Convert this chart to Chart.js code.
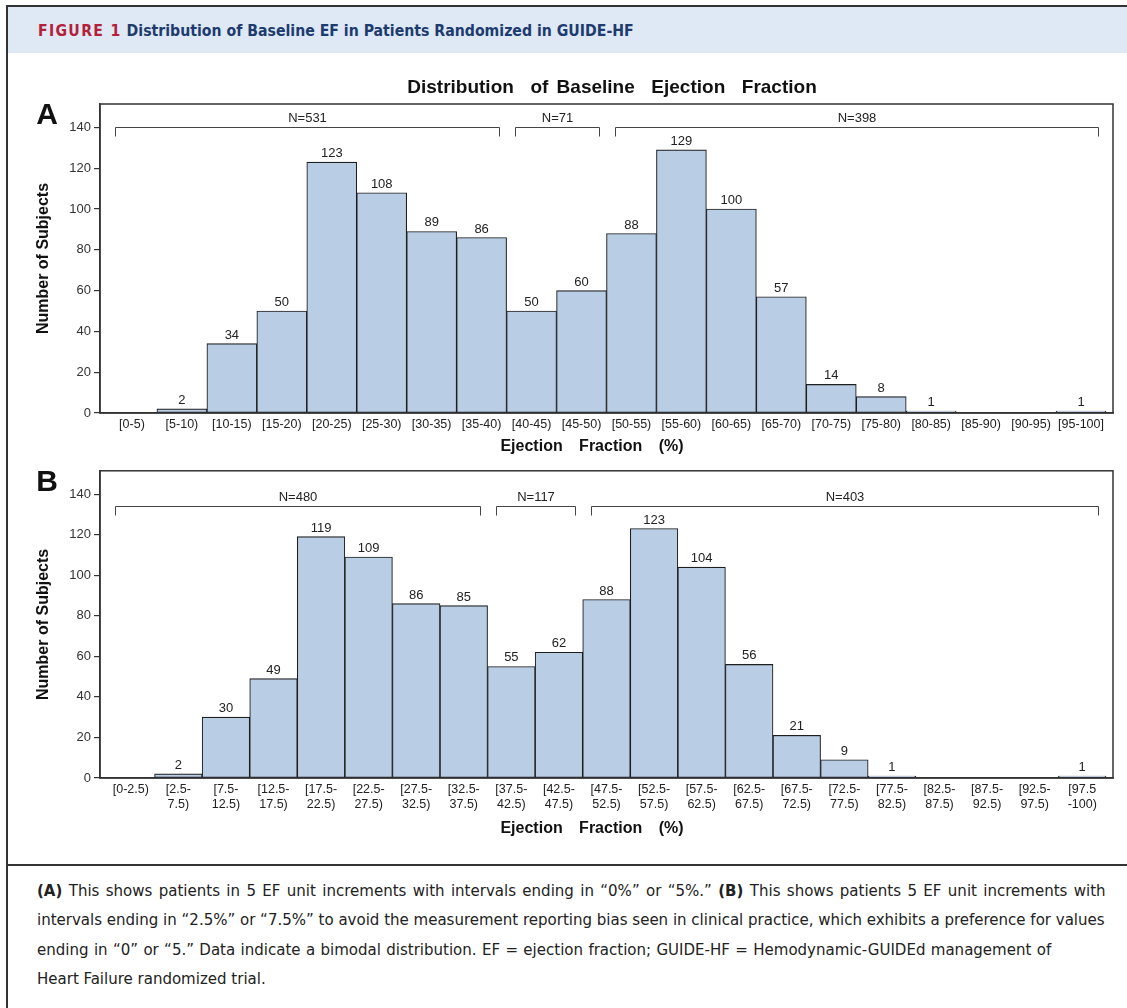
<!DOCTYPE html>
<html>
<head>
<meta charset="utf-8">
<title>Distribution of Baseline EF in Patients Randomized in GUIDE-HF</title>
<script src="https://cdn.jsdelivr.net/npm/chart.js@4.4.1/dist/chart.umd.min.js"></script>
<style>
  html, body { margin: 0; padding: 0; background: #fff; }
  body { width: 1127px; height: 1008px; position: relative; overflow: hidden; }
  #frameLeft { position: absolute; left: 6px; top: 5px; width: 2px; height: 1003px; background: #333; }
  #frameTop { position: absolute; left: 6px; top: 5px; width: 1121px; height: 2px; background: #333; }
  #header {
    position: absolute; left: 8px; top: 7px; width: 1119px; height: 46px; background: #dee9f5;
    font-family: "DejaVu Sans Condensed", "DejaVu Sans", sans-serif; font-weight: bold;
    font-size: 15.7px; line-height: 48px; white-space: nowrap;
  }
  #header .fig { color: #b3203a; letter-spacing: 1.3px; margin-left: 30px; }
  #header .ttl { color: #1d3b6e; margin-left: 5px; }
  .panel { position: absolute; left: 0; }
  #sep { position: absolute; left: 6px; top: 864px; width: 1121px; height: 2px; background: #333; }
  #caption {
    position: absolute; left: 37px; top: 876px;
    font-family: "DejaVu Sans Condensed", "DejaVu Sans", sans-serif; font-size: 16.7px;
    line-height: 29.3px; color: #222; white-space: nowrap;
  }
  #caption .l1 { word-spacing: 1.6px; }
  #caption .l3 { word-spacing: 0.6px; }
</style>
</head>
<body>
<div id="frameLeft"></div>
<div id="frameTop"></div>
<div id="header"><span class="fig">FIGURE 1</span><span class="ttl">Distribution of Baseline EF in Patients Randomized in GUIDE-HF</span></div>
<canvas id="chartA" class="panel" width="1127" height="405" style="top:55px"></canvas>
<canvas id="chartB" class="panel" width="1127" height="400" style="top:460px"></canvas>
<div id="sep"></div>
<div id="caption">
  <div class="l1"><b>(A)</b> This shows patients in 5 EF unit increments with intervals ending in “0%” or “5%.” <b>(B)</b> This shows patients 5 EF unit increments with</div>
  <div class="l2">intervals ending in “2.5%” or “7.5%” to avoid the measurement reporting bias seen in clinical practice, which exhibits a preference for values</div>
  <div class="l3">ending in “0” or “5.” Data indicate a bimodal distribution. EF = ejection fraction; GUIDE-HF = Hemodynamic-GUIDEd management of</div>
  <div>Heart Failure randomized trial.</div>
</div>
<script>
// Panel A: 5-unit bins ending in 0 / 5
const binsA = ['[0-5)', '[5-10)', '[10-15)', '[15-20)', '[20-25)', '[25-30)', '[30-35)', '[35-40)',
  '[40-45)', '[45-50)', '[50-55)', '[55-60)', '[60-65)', '[65-70)', '[70-75)', '[75-80)',
  '[80-85)', '[85-90)', '[90-95)', '[95-100]'];
const countsA = [0, 2, 34, 50, 123, 108, 89, 86, 50, 60, 88, 129, 100, 57, 14, 8, 1, 0, 0, 1];
const groupLabelsA = ['N=531', 'N=71', 'N=398'];
const groupFirstA = [0, 8, 10];
const groupLastA = [7, 9, 19];
const groupLevelA = 140;

// Panel B: 5-unit bins ending in 2.5 / 7.5
const binsB = ['[0-2.5)', ['[2.5-', '7.5)'], ['[7.5-', '12.5)'], ['[12.5-', '17.5)'], ['[17.5-', '22.5)'],
  ['[22.5-', '27.5)'], ['[27.5-', '32.5)'], ['[32.5-', '37.5)'], ['[37.5-', '42.5)'], ['[42.5-', '47.5)'],
  ['[47.5-', '52.5)'], ['[52.5-', '57.5)'], ['[57.5-', '62.5)'], ['[62.5-', '67.5)'], ['[67.5-', '72.5)'],
  ['[72.5-', '77.5)'], ['[77.5-', '82.5)'], ['[82.5-', '87.5)'], ['[87.5-', '92.5)'], ['[92.5-', '97.5)'],
  ['[97.5', '-100)']];
const countsB = [0, 2, 30, 49, 119, 109, 86, 85, 55, 62, 88, 123, 104, 56, 21, 9, 1, 0, 0, 0, 1];
const groupLabelsB = ['N=480', 'N=117', 'N=403'];
const groupFirstB = [0, 8, 10];
const groupLastB = [7, 9, 20];
const groupLevelB = 134;

const yTicks = [0, 20, 40, 60, 80, 100, 120, 140];
const yMax = 151.5;

const FONT = '"Liberation Sans", Arial, Helvetica, sans-serif';
Chart.defaults.font.family = FONT;
Chart.defaults.color = '#222';

// Draws value labels, N= brackets, frame, panel letter and titles
const panelDecor = {
  id: 'panelDecor',
  afterDatasetsDraw(chart, args, opts) {
    const { ctx, scales: { x, y } } = chart;
    const meta = chart.getDatasetMeta(0);
    ctx.save();
    ctx.textAlign = 'center';
    ctx.textBaseline = 'alphabetic';
    ctx.fillStyle = '#222';
    ctx.font = '13px ' + FONT;
    meta.data.forEach((bar, i) => {
      if (opts.counts[i] > 0) ctx.fillText(String(opts.counts[i]), bar.x, bar.y - 5);
    });

    // group brackets
    const lv = Math.round(y.getPixelForValue(opts.level)) + 0.5;
    ctx.strokeStyle = '#444';
    ctx.lineWidth = 1;
    opts.first.forEach((f, k) => {
      const x0 = Math.round(x.getPixelForValue(f - 0.5) + 8) + 0.5;
      const x1 = Math.round(x.getPixelForValue(opts.last[k] + 0.5) - 8) + 0.5;
      ctx.beginPath();
      ctx.moveTo(x0, lv + 9);
      ctx.lineTo(x0, lv);
      ctx.lineTo(x1, lv);
      ctx.lineTo(x1, lv + 9);
      ctx.stroke();
      ctx.fillText(opts.groups[k], (x0 + x1) / 2, lv - 6);
    });
    ctx.restore();
  },
  afterDraw(chart, args, opts) {
    const { ctx, chartArea: a } = chart;
    ctx.save();
    ctx.strokeStyle = '#333';
    ctx.lineWidth = 1.5;
    ctx.strokeRect(a.left, a.top, a.right - a.left, a.bottom - a.top);

    ctx.fillStyle = '#111';
    ctx.textAlign = 'center';
    ctx.textBaseline = 'middle';
    ctx.font = 'bold 30px ' + FONT;
    ctx.fillText(opts.letter, 47, a.top + 12);

    if (opts.title) {
      if ('wordSpacing' in ctx) ctx.wordSpacing = '3px';
      ctx.font = 'bold 19px ' + FONT;
      ctx.fillText(opts.title, 612, a.top - 16);
    }
    if ('wordSpacing' in ctx) ctx.wordSpacing = '12px';
    ctx.font = 'bold 16px ' + FONT;
    ctx.fillText('Ejection Fraction (%)', 592, a.bottom + opts.xTitleGap);
    if ('wordSpacing' in ctx) ctx.wordSpacing = '0px';
    ctx.translate(44, (a.top + a.bottom) / 2);
    ctx.rotate(-Math.PI / 2);
    ctx.fillText('Number of Subjects', 0, 0);
    ctx.restore();
  }
};

function makePanel(id, bins, counts, groups, first, last, level, opt) {
  const n = bins.length;
  const pad = 7 / (1000 / n);
  return new Chart(document.getElementById(id), {
    type: 'bar',
    data: {
      datasets: [{
        data: counts.map((v, i) => ({ x: i, y: v })),
        backgroundColor: '#b9cde5',
        borderColor: '#1e1e1e',
        borderWidth: 1.1,
        borderSkipped: false,
        categoryPercentage: 1,
        barPercentage: 1
      }]
    },
    options: {
      responsive: false,
      animation: false,
      layout: { padding: { top: opt.top, right: 14, left: 0, bottom: 0 } },
      plugins: {
        legend: { display: false },
        tooltip: { enabled: false },
        panelDecor: {
          counts: counts, groups: groups, first: first, last: last, level: level,
          letter: opt.letter, title: opt.title, xTitleGap: opt.xTitleGap
        }
      },
      scales: {
        x: {
          type: 'linear',
          offset: false,
          min: -0.5 - pad,
          max: n - 0.5 + pad,
          afterBuildTicks: s => { s.ticks = bins.map((b, i) => ({ value: i })); },
          afterFit: s => { s.height = opt.xHeight; },
          grid: { display: false, drawTicks: false },
          border: { display: true, color: '#333', width: 1.5 },
          ticks: {
            autoSkip: false, maxRotation: 0, minRotation: 0, padding: 4,
            font: { size: 12.5 }, color: '#222',
            callback: v => bins[Math.round(v)]
          }
        },
        y: {
          min: 0,
          max: yMax,
          afterBuildTicks: s => { s.ticks = yTicks.map(v => ({ value: v })); },
          afterFit: s => { s.width = 100; },
          grid: { display: true, drawOnChartArea: false, drawTicks: true, tickLength: 6, color: '#333', lineWidth: 1.2 },
          border: { display: true, color: '#333', width: 1.5 },
          ticks: { padding: 3, font: { size: 13 }, color: '#333' }
        }
      }
    },
    plugins: [panelDecor]
  });
}

makePanel('chartA', binsA, countsA, groupLabelsA, groupFirstA, groupLastA, groupLevelA,
  { top: 49, xHeight: 47, letter: 'A', title: 'Distribution  of Baseline  Ejection  Fraction', xTitleGap: 34 });
makePanel('chartB', binsB, countsB, groupLabelsB, groupFirstB, groupLastB, groupLevelB,
  { top: 9, xHeight: 82, letter: 'B', title: '', xTitleGap: 51 });
</script>
</body>
</html>
